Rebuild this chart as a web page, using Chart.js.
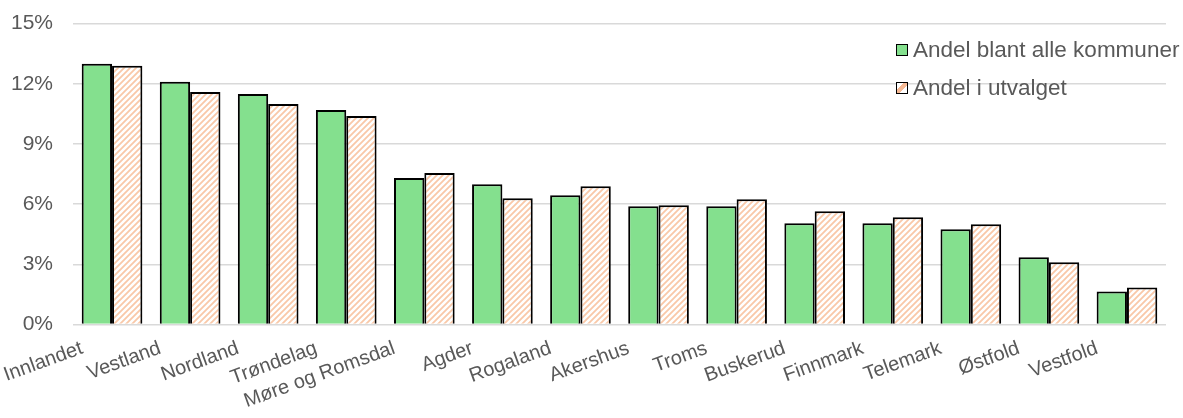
<!DOCTYPE html>
<html lang="no">
<head>
<meta charset="utf-8">
<title>Andel per fylke</title>
<script src="https://cdn.jsdelivr.net/npm/chart.js@4.4.1/dist/chart.umd.min.js"></script>
<style>
    html, body { margin: 0; padding: 0; background: #fff; }
    #wrap { position: relative; width: 1183px; height: 418px; }
    #legend {
        position: absolute; left: 896px; top: 36px;
        font-family: "Liberation Sans", Arial, sans-serif; font-size: 22.5px; color: #595959;
    }
    .item { display: flex; align-items: center; height: 28px; margin-bottom: 10px; white-space: nowrap; }
    .box { width: 10px; height: 10px; border: 1.5px solid #000; margin-right: 5px; }
    .green { background: #84e08e; }
    .hatch { background: linear-gradient(135deg, #fff 0 35%, #f6b994 35% 62%, #fff 62% 100%); }
</style>
</head>
<body>
<div id="wrap">
    <canvas id="chart"></canvas>
    <div id="legend">
        <div class="item"><span class="box green"></span>Andel blant alle kommuner</div>
        <div class="item"><span class="box hatch"></span>Andel i utvalget</div>
    </div>
</div>
<script>
const fylker = ['Innlandet', 'Vestland', 'Nordland', 'Trøndelag', 'Møre og Romsdal', 'Agder', 'Rogaland',
    'Akershus', 'Troms', 'Buskerud', 'Finnmark', 'Telemark', 'Østfold', 'Vestfold'];
const andelAlle = [13.0, 12.1, 11.5, 10.7, 7.3, 7.0, 6.45, 5.9, 5.9, 5.05, 5.05, 4.75, 3.35, 1.65];
const andelUtvalg = [12.9, 11.6, 11.0, 10.4, 7.55, 6.3, 6.9, 5.95, 6.25, 5.65, 5.35, 5.0, 3.1, 1.85];
const seriesNames = ['Andel blant alle kommuner', 'Andel i utvalget'];

// pale diagonal hatch like Excel's "wide upward diagonal"
function makeHatch() {
    const c = document.createElement('canvas');
    c.width = 6; c.height = 6;
    const g = c.getContext('2d');
    g.fillStyle = '#fff';
    g.fillRect(0, 0, 6, 6);
    g.strokeStyle = '#f9c8a8';
    g.lineWidth = 1.8;
    g.beginPath();
    g.moveTo(0, 6); g.lineTo(6, 0);
    g.moveTo(-2, 2); g.lineTo(2, -2);
    g.moveTo(4, 8); g.lineTo(8, 4);
    g.stroke();
    return g.createPattern(c, 'repeat');
}

const ctx = document.getElementById('chart').getContext('2d');
const textColor = '#595959';
const fontFamily = '"Liberation Sans", Arial, sans-serif';

new Chart(ctx, {
    type: 'bar',
    data: {
        labels: fylker,
        datasets: [{
            label: seriesNames[0],
            data: andelAlle,
            backgroundColor: '#84e08e',
            borderColor: '#000',
            borderWidth: 2
        }, {
            label: seriesNames[1],
            data: andelUtvalg,
            backgroundColor: makeHatch(),
            borderColor: '#000',
            borderWidth: 2
        }]
    },
    options: {
        responsive: true,
        maintainAspectRatio: false,
        animation: false,
        layout: {
            padding: { top: 0, right: 17, left: 0, bottom: 0 }
        },
        datasets: {
            bar: { categoryPercentage: 0.777, barPercentage: 1 }
        },
        scales: {
            x: {
                grid: { display: false },
                border: { display: false },
                ticks: {
                    color: textColor,
                    font: { family: fontFamily, size: 20 },
                    minRotation: 20,
                    maxRotation: 20,
                    autoSkip: false,
                    labelOffset: -30,
                    padding: 4
                },
                afterFit: function(scale) { scale.height = 93.5; }
            },
            y: {
                min: 0,
                max: 15,
                grid: { color: '#d9d9d9', lineWidth: 1.5, drawTicks: false },
                border: { display: false },
                ticks: {
                    stepSize: 3,
                    color: textColor,
                    font: { family: fontFamily, size: 21 },
                    padding: 20,
                    callback: function(value) { return value + '%'; }
                },
                afterFit: function(scale) {
                    scale.width = 73;
                    // tick padding is otherwise added to the top gap too
                    scale.paddingTop = 23.7;
                }
            }
        },
        plugins: {
            legend: { display: false },
            tooltip: { enabled: false }
        }
    }
});
</script>
</body>
</html>
